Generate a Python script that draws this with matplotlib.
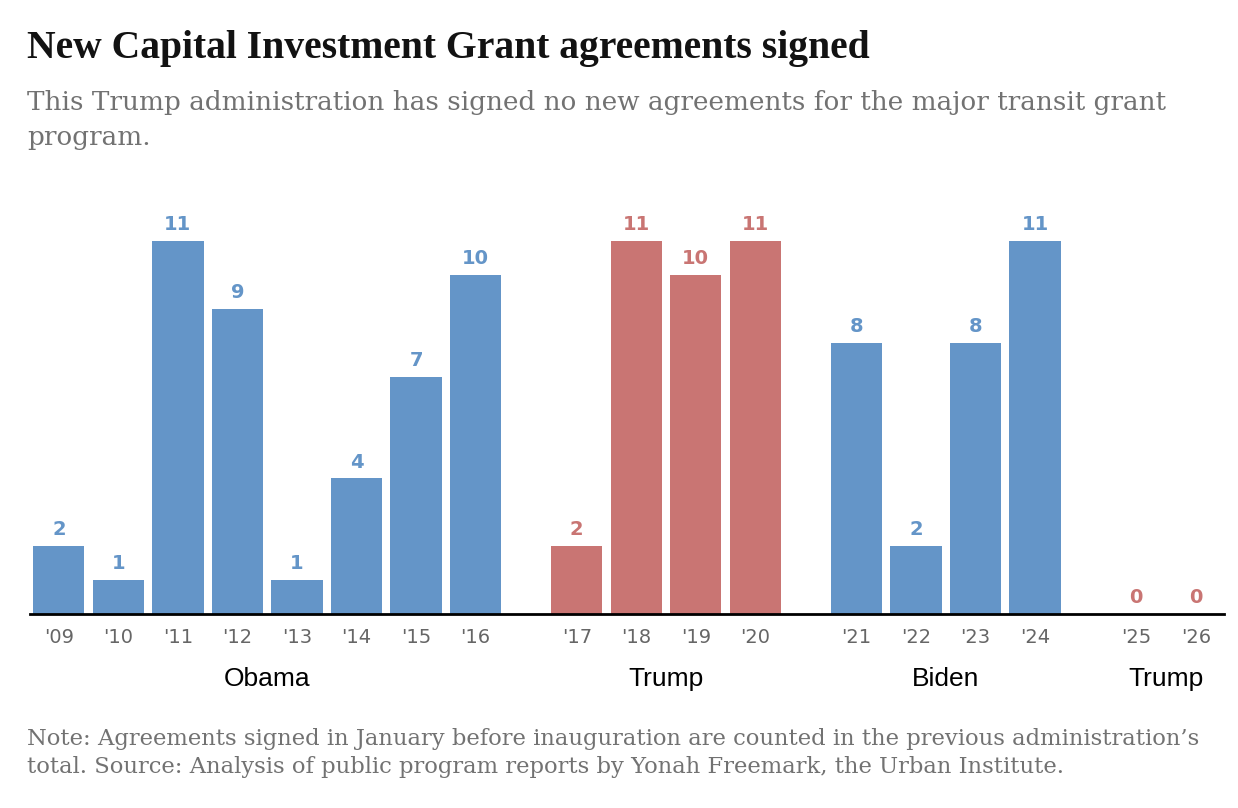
import matplotlib.pyplot as plt
import numpy as np

years = ["'09", "'10", "'11", "'12", "'13", "'14", "'15", "'16",
         "'17", "'18", "'19", "'20",
         "'21", "'22", "'23", "'24",
         "'25", "'26"]
agreements = [2, 1, 11, 9, 1, 4, 7, 10,
              2, 11, 10, 11,
              8, 2, 8, 11,
              0, 0]
admins = ["Obama", "Trump", "Biden", "Trump"]
admin_sizes = [8, 4, 4, 2]
admin_party = ["D", "R", "D", "R"]

BLUE = "#6495c8"
RED = "#c97573"
GAP = 0.7

# bar positions with a gap between administrations
xs, colors, group_of = [], [], []
i = 0
for g, n in enumerate(admin_sizes):
    for _ in range(n):
        xs.append(i + GAP * g)
        colors.append(BLUE if admin_party[g] == "D" else RED)
        group_of.append(g)
        i += 1
xs = np.array(xs)

fig = plt.figure(figsize=(12.38, 8.08), dpi=100)
ax = fig.add_axes([0.024, 0.240, 0.965, 0.462])

ax.bar(xs, agreements, width=0.86, color=colors, edgecolor="none")
for x, v, c in zip(xs, agreements, colors):
    ax.text(x, v + 0.2, str(v), ha="center", va="bottom", color=c,
            fontsize=14, fontweight="bold", family="DejaVu Sans")

ax.set_xlim(-0.49, 19.58)
ax.set_ylim(0, 11)
for s in ["top", "right", "left"]:
    ax.spines[s].set_visible(False)
ax.spines["bottom"].set_linewidth(2)
ax.spines["bottom"].set_color("black")
ax.set_yticks([])
ax.set_xticks(xs)
ax.set_xticklabels(years, fontsize=14, color="#666666", family="DejaVu Sans")
ax.tick_params(axis="x", length=0, pad=10)

for g, name in enumerate(admins):
    center = xs[[k for k in range(len(xs)) if group_of[k] == g]].mean()
    ax.text(center, -1.9, name, ha="center", va="center", fontsize=19,
            color="black", family="Liberation Sans", clip_on=False)

fig.text(0.022, 0.94, "New Capital Investment Grant agreements signed",
         fontsize=28.5, fontweight="bold", family="Liberation Serif",
         color="#121212", va="center")
fig.text(0.022, 0.851, "This Trump administration has signed no new agreements for the major transit grant\nprogram.",
         fontsize=18.9, family="DejaVu Serif", color="#727272", va="center",
         linespacing=1.5)
fig.text(0.022, 0.068, "Note: Agreements signed in January before inauguration are counted in the previous administration\u2019s\ntotal. Source: Analysis of public program reports by Yonah Freemark, the Urban Institute.",
         fontsize=16.3, family="DejaVu Serif", color="#727272", va="center",
         linespacing=1.4)

fig.savefig("out.png", dpi=100)
